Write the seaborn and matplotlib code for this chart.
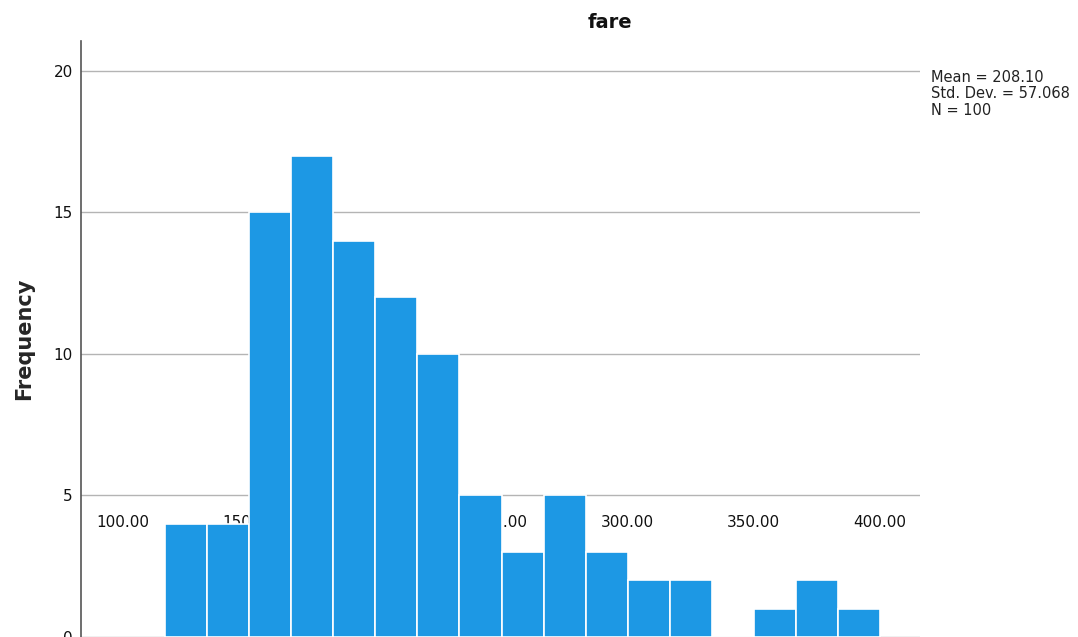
import numpy as np
import pandas as pd
import matplotlib
matplotlib.use("Agg")
import matplotlib.pyplot as plt
import seaborn as sns

# ---- data ----
bin_centers = [125.0, 141.67, 158.33, 175.0, 191.67, 208.33, 225.0, 241.67,
               258.33, 275.0, 291.67, 308.33, 325.0, 341.67, 358.33, 375.0, 391.67]
counts = [4, 4, 15, 17, 14, 12, 10, 5, 3, 5, 3, 2, 2, 0, 1, 2, 1]
x_ticks = [100, 150, 200, 250, 300, 350, 400]
x_tick_labels = ["100.00", "150.00", "200.00", "250.00", "300.00", "350.00", "400.00"]
y_ticks = [0, 5, 10, 15, 20]
title = "fare"
y_label = "Frequency"
stats_lines = ["Mean = 208.10", "Std. Dev. = 57.068", "N = 100"]

bin_width = 16.6667
edges = [bin_centers[0] - bin_width / 2] + [c + bin_width / 2 for c in bin_centers]

df = pd.DataFrame({"fare": bin_centers, "count": counts})

sns.set_style("white")
plt.rcParams["font.family"] = ["DejaVu Sans"]

W, H = 1078, 637
fig = plt.figure(figsize=(W / 100, H / 100), dpi=100)
ax = fig.add_axes([81 / W, 0 / H, (920 - 81) / W, (637 - 41) / H])

ax.set_axisbelow(True)
ax.yaxis.grid(True, color="#b4b4b4", linewidth=1.0)
ax.xaxis.grid(False)

sns.histplot(data=df, x="fare", weights="count", bins=edges, ax=ax,
             color="#1d98e4", alpha=1.0, edgecolor="white", linewidth=1.2)
for p in ax.patches:
    p.set_zorder(2)

ax.set_xlim(83.3, 415.9)
ax.set_ylim(0, 21.06)
ax.set_xticks(x_ticks)
ax.set_xticklabels(x_tick_labels)
ax.set_yticks(y_ticks)
ax.tick_params(axis="x", length=0, pad=-88, labelsize=11, labelcolor="#111111")
ax.tick_params(axis="y", length=0, pad=6, labelsize=11, labelcolor="#111111")
for lab in ax.get_xticklabels():
    lab.set_zorder(1)

ax.set_xlabel("")
ax.set_ylabel(y_label, fontsize=15, fontweight="bold", labelpad=14)
for s in ["top", "right", "bottom"]:
    ax.spines[s].set_visible(False)
ax.spines["left"].set_color("#555555")
ax.spines["left"].set_linewidth(1.2)

fig.text(610 / W, 1 - 22 / H, title, ha="center", va="center",
         fontsize=14, fontweight="bold", color="#111111")
fig.text(931 / W, 1 - 70 / H, "\n".join(stats_lines), ha="left", va="top",
         fontsize=10.5, linespacing=1.12, color="#222222")

fig.savefig("out.png", dpi=100)
